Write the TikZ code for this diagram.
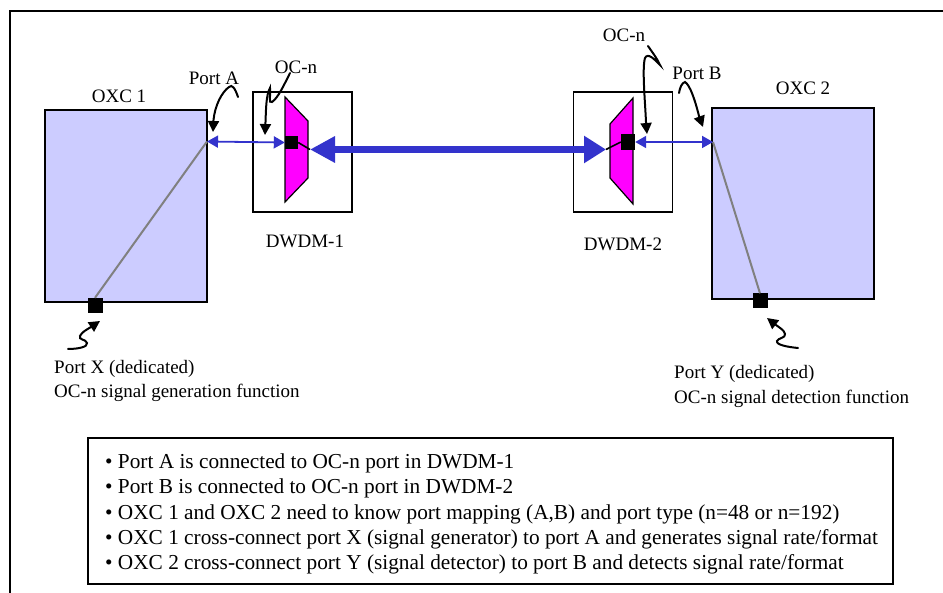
\documentclass[tikz,border=0pt]{standalone}
\usepackage{fontspec}
\setmainfont{Liberation Serif}
\usetikzlibrary{arrows.meta}
\definecolor{oxcfill}{RGB}{204,204,255}
\definecolor{linkblue}{RGB}{51,51,204}
\definecolor{mux}{RGB}{255,0,255}
\tikzset{
  oxc/.style={draw=black,line width=2pt,fill=oxcfill,minimum width=#1,inner sep=0pt},
  dwdm/.style={draw=black,line width=1.9pt,fill=white,inner sep=0pt,minimum width=99pt,minimum height=120pt},
  portsq/.style={fill=black,inner sep=0pt,minimum width=15pt,minimum height=15pt},
  lbl/.style={font=\fontsize{19}{22}\selectfont,inner sep=0pt,anchor=center},
  lbll/.style={font=\fontsize{19}{24.5}\selectfont,inner sep=0pt,anchor=west,align=left},
  pointer/.style={line width=2pt,line cap=round,-{Triangle[length=11pt,width=11pt]}},
  thinlink/.style={draw=linkblue,line width=1.8pt,{Triangle[length=11pt,width=12pt]}-{Triangle[length=11pt,width=12pt]}},
  thicklink/.style={draw=linkblue,line width=7pt,{Triangle[length=25pt,width=25pt]}-{Triangle[length=22pt,width=26pt]}},
  trap/.style={draw=black,line width=1.2pt,fill=mux},
  inner/.style={draw=gray,line width=2pt},
  stub/.style={draw=black,line width=1.6pt}
}
\begin{document}
\begin{tikzpicture}[x=1pt,y=-1pt]
\useasboundingbox (0,0) rectangle (943,593);
\coordinate (fa) at (10,593); \coordinate (fb) at (10,11); \coordinate (fc) at (943,11);
\draw[line width=2.2pt,line join=miter] (fa) -- (fb) -- (fc);
% OXC boxes
\node[oxc=162pt,minimum height=192pt] (oxc1) at (126,206) {};
\node[oxc=162pt,minimum height=191pt] (oxc2) at (793,204) {};
\node[lbl] (oxc1l) at (119,96) {OXC 1};
\node[lbl] (oxc2l) at (803,88) {OXC 2};
% DWDM boxes
\node[dwdm] (d1) at (302.5,152) {};
\node[dwdm] (d2) at (623,152) {};
\draw[trap] (285,97) -- (308,121) -- (308,178) -- (285,202) -- cycle;
\draw[trap] (633,98) -- (610,124) -- (610,178) -- (633,204) -- cycle;
\node[lbl] (d1l) at (305,241.5) {DWDM-1};
\node[lbl] (d2l) at (623,244.5) {DWDM-2};
% ports
\coordinate (pa) at (207,141.5);
\coordinate (pb) at (713,142);
\node[portsq,minimum width=13pt,minimum height=13pt] (s1) at (291.5,142.5) {};
\node[portsq,minimum width=14pt,minimum height=16pt] (s2) at (628,142) {};
\node[portsq] (px) at (95,305.5) {};
\node[portsq] (py) at (760,301) {};
% internal connections
\draw[inner] (pa) -- (px.north);
\draw[inner] (pb) -- (py.north);
% thick link
\coordinate (t1) at (310,149.5);
\coordinate (t2) at (606,149.5);
\draw[stub] (s1.east) -- (t1);
\draw[stub] (s2.west) -- (t2);
\draw[thicklink] (t1) -- (t2);
% thin links
\draw[thinlink] (pa) -- (s1.west);
\draw[thinlink] (pb) -- (s2.east);
% labels
\node[lbl] (la) at (214,78) {Port A};
\node[lbl] (lo1) at (296,67) {OC-n};
\node[lbl] (lo2) at (624,35) {OC-n};
\node[lbl] (lb) at (697,73) {Port B};
\node[lbll] (lx) at (54,381) {Port X (dedicated)\\OC-n signal generation function};
\node[lbll] (ly) at (674,386.5) {Port Y (dedicated)\\OC-n signal detection function};
% pointers
\coordinate (a0) at (238,97); \coordinate (a1) at (213,132);
\draw[pointer] (a0) .. controls (235,88) and (232,84) .. (229,87) .. controls (222,92) and (215,105) .. (213.5,120) -- (a1);
\coordinate (o0) at (290,73); \coordinate (o1) at (265,135);
\draw[pointer] (o0) .. controls (284,85) and (278,98) .. (272,102) .. controls (268,104) and (271,95) .. (270,88) .. controls (266,95) and (266,110) .. (265.5,122) -- (o1);
\coordinate (r0) at (648,46); \coordinate (r1) at (647,134);
\draw[pointer] (r0) .. controls (652,52) and (657,58) .. (660,65) .. controls (655,60) and (648,52) .. (645,58) .. controls (642,68) and (645,100) .. (646,122) -- (r1);
\coordinate (b0) at (679,93); \coordinate (b1) at (703,127);
\draw[pointer] (b0) .. controls (680,87) and (682,83) .. (685,82) .. controls (690,85) and (695,100) .. (699,116) -- (b1);
\coordinate (x0) at (68,349); \coordinate (x1) at (100,321);
\draw[pointer] (x0) .. controls (78,349) and (88,347) .. (87,343) .. controls (86,339) and (78,340) .. (80,336) .. controls (82,332) and (86,330) .. (91,327) -- (x1);
\coordinate (y0) at (798,348); \coordinate (y1) at (767,318);
\draw[pointer] (y0) .. controls (788,347) and (776,345) .. (777,341) .. controls (778,338) and (786,338) .. (785,334) .. controls (784,330) and (780,328) .. (776,325) -- (y1);
% note box
\node[draw=black,line width=1.2pt,fill=white,inner sep=0pt,minimum width=805pt,minimum height=146pt] (note) at (490.5,511) {};
\node[font=\fontsize{21.3}{25.3}\selectfont,inner sep=0pt,anchor=west,align=left] (notet) at (105,514) {%
• Port A is connected to OC-n port in DWDM-1\\
• Port B is connected to OC-n port in DWDM-2\\
• OXC 1 and OXC 2 need to know port mapping (A,B) and port type (n=48 or n=192)\\
• OXC 1 cross-connect port X (signal generator) to port A and generates signal rate/format\\
• OXC 2 cross-connect port Y (signal detector) to port B and detects signal rate/format};
\end{tikzpicture}
\end{document}
